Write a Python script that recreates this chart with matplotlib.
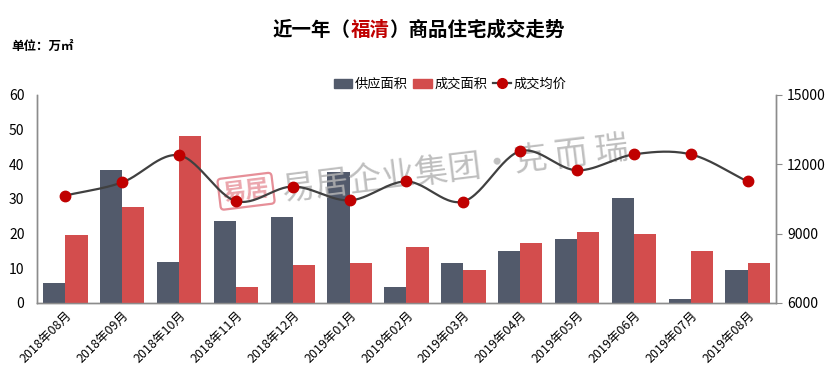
import numpy as np
import matplotlib
matplotlib.use('Agg')
import matplotlib.pyplot as plt
from matplotlib.lines import Line2D
from matplotlib.patches import Patch

plt.rcParams['font.family'] = ['Noto Sans CJK SC', 'DejaVu Sans']

# data
months = ['2018年08月', '2018年09月', '2018年10月', '2018年11月', '2018年12月',
          '2019年01月', '2019年02月', '2019年03月', '2019年04月', '2019年05月',
          '2019年06月', '2019年07月', '2019年08月']
supply = [5.8, 38.3, 11.8, 23.6, 24.8, 37.8, 4.5, 11.5, 15.0, 18.4, 30.2, 1.1, 9.5]
deal = [19.6, 27.6, 48.2, 4.5, 10.9, 11.5, 16.1, 9.5, 17.3, 20.4, 19.8, 15.0, 11.5]
price = [10650, 11220, 12390, 10410, 11040, 10440, 11260, 10390, 12570,
         11740, 12430, 12430, 11260]

c_supply = '#525a6b'
c_deal = '#d34d4d'
c_line = '#404040'
c_dot = '#c00000'
c_axis = '#8c8c8c'


def catmull_rom(x, y, n=30):
    # smooth curve through the points (like excel "smoothed line")
    x = np.asarray(x, float)
    y = np.asarray(y, float)
    px = np.concatenate([[2 * x[0] - x[1]], x, [2 * x[-1] - x[-2]]])
    py = np.concatenate([[2 * y[0] - y[1]], y, [2 * y[-1] - y[-2]]])
    xs, ys = [], []
    t = np.linspace(0, 1, n)
    for i in range(1, len(px) - 2):
        for p, out in ((px, xs), (py, ys)):
            p0, p1, p2, p3 = p[i - 1], p[i], p[i + 1], p[i + 2]
            out.extend(0.5 * (2 * p1 + (-p0 + p2) * t
                              + (2 * p0 - 5 * p1 + 4 * p2 - p3) * t ** 2
                              + (-p0 + 3 * p1 - 3 * p2 + p3) * t ** 3))
    return np.array(xs), np.array(ys)


fig = plt.figure(figsize=(8.37, 3.75), dpi=100)
ax = fig.add_axes([0.0442, 0.192, 0.8829, 0.5547])
ax2 = ax.twinx()

x = np.arange(len(months))
w = 0.39
ax.bar(x - w / 2, supply, w, color=c_supply, zorder=3)
ax.bar(x + w / 2, deal, w, color=c_deal, zorder=3)

ax.set_xlim(-0.5, len(months) - 0.5)
ax.set_ylim(0, 60)
ax.set_yticks(range(0, 61, 10))
ax.set_xticks(x)
ax.set_xticklabels(months, rotation=45, ha='right', rotation_mode='anchor', fontsize=9)
ax.tick_params(axis='x', length=0, pad=4)
ax.tick_params(axis='y', length=0, labelsize=10, pad=9)

sx, sy = catmull_rom(x, price)
ax2.plot(sx, sy, color=c_line, lw=1.6, zorder=4)
ax2.plot(x, price, 'o', color=c_dot, ms=7.5, zorder=5)
ax2.set_ylim(6000, 15000)
ax2.set_yticks([6000, 9000, 12000, 15000])
ax2.tick_params(axis='y', length=4, color=c_axis, labelsize=10, pad=4)

for a in (ax, ax2):
    a.spines['top'].set_visible(False)
    for s in ('left', 'right', 'bottom'):
        a.spines[s].set_color(c_axis)
        a.spines[s].set_linewidth(1.0)
ax.set_zorder(ax2.get_zorder() - 1)
ax.patch.set_visible(False)
ax2.patch.set_visible(False)

# watermark (behind the bars)
fig.text(0.294, 0.49, '易居', fontsize=17, color='#e68f98', alpha=0.8, rotation=7,
         ha='center', va='center', fontweight='bold',
         bbox=dict(boxstyle='round,pad=0.15', fc='none', ec='#e68f98', lw=1.6), zorder=-1)
fig.text(0.335, 0.545, '易居企业集团·克 而 瑞', fontsize=24, color='#b4b4b4', alpha=0.85,
         rotation=7, ha='left', va='center', zorder=-1)

# legend
handles = [Patch(color=c_supply), Patch(color=c_deal),
           Line2D([], [], color=c_line, lw=1.6, marker='o', mfc=c_dot, mec=c_dot, ms=7)]
fig.legend(handles, ['供应面积', '成交面积', '成交均价'], loc='center', ncol=3,
           bbox_to_anchor=(0.538, 0.775), frameon=False, fontsize=9.5,
           handlelength=1.4, handletextpad=0.2, columnspacing=0.4)

# title with red city name
r = fig.canvas.get_renderer()
parts = [('近一年（', 'black'), ('福清', '#c00000'), ('）商品住宅成交走势', 'black')]
texts = [fig.text(0, 0.92, s, color=c, fontsize=14, fontweight='bold', va='center')
         for s, c in parts]
widths = [t.get_window_extent(r).width / fig.bbox.width for t in texts]
x0 = 0.5 - sum(widths) / 2
for t, wd in zip(texts, widths):
    t.set_x(x0)
    x0 += wd

fig.text(0.014, 0.875, '单位：万㎡', fontsize=9, fontweight='bold', va='center')

fig.savefig('out.png', dpi=100, facecolor='white')
